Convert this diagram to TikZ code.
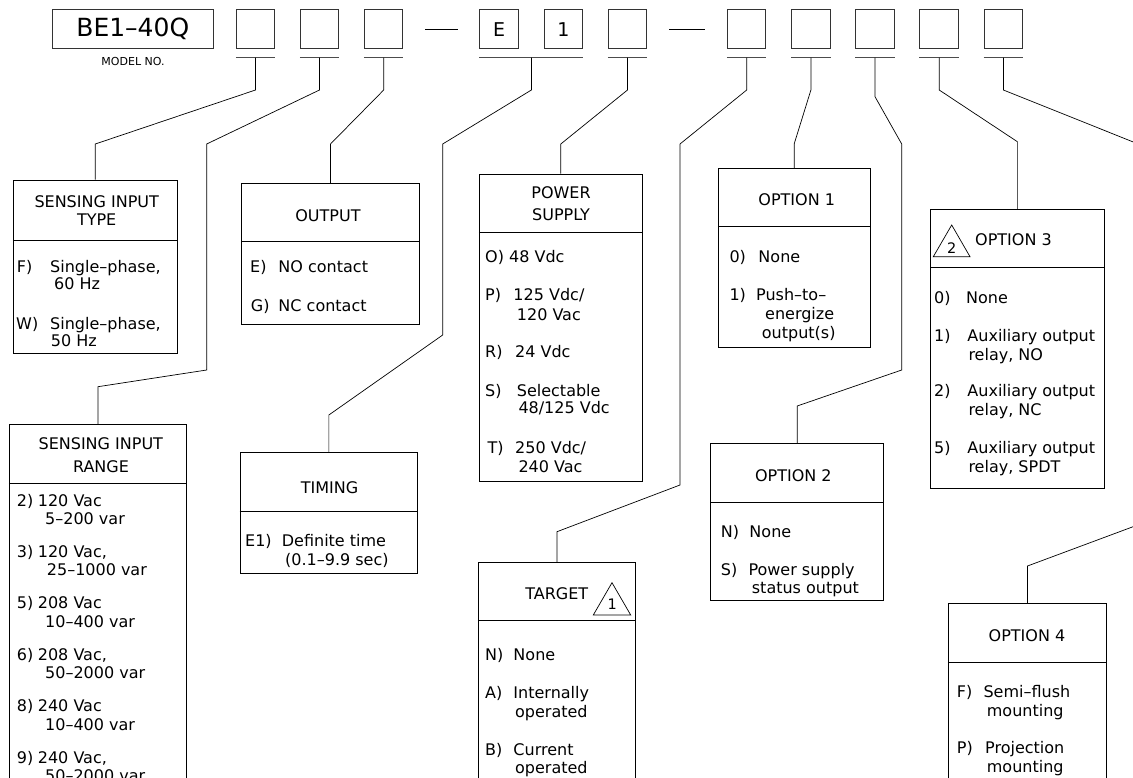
\documentclass[tikz,border=0pt]{standalone}
\usepackage{fontspec}
\newfontfamily\cad{DejaVu Sans}
\usetikzlibrary{fit}
\newcommand\lab[2]{\makebox[#1][l]{#2}}
\begin{document}
\begin{tikzpicture}[x=1pt,y=-1pt,
  bx/.style={draw, line width=0.9pt, inner sep=0pt},
  dv/.style={line width=0.9pt},
  sq/.style={draw=black!80, line width=1pt, minimum width=38.5pt, minimum height=38.3pt, inner sep=0pt},
  ul/.style={draw=black!70, line width=1.1pt},
  cn/.style={draw, line width=0.7pt, line join=miter},
  tx/.style={anchor=base west, inner sep=0pt, font=\cad\fontsize{16}{19}\selectfont},
  tt/.style={anchor=base, inner sep=0pt, font=\cad\fontsize{16}{19}\selectfont},
  tri/.style={draw, line width=0.7pt, line join=miter},
  trn/.style={inner sep=0pt, font=\cad\fontsize{14.5}{14.5}\selectfont}]
\useasboundingbox (0,0) rectangle (1133,778);
\fill[white] (0,0) rectangle (1133,778);
\clip (0,0) rectangle (1133,778);

% ---------- top row ----------
\node[sq, minimum width=161pt, font=\cad\fontsize{25}{25}\selectfont] (be) at (132.8,29.15) {BE1–40Q};
\node[inner sep=0pt, font=\cad\fontsize{11}{11}\selectfont] (mn) at (133,61.7) {MODEL NO.};
\node[sq] (b1) at (255.5,29.15) {};
\node[sq] (b2) at (319.5,29.15) {};
\node[sq] (b3) at (383.7,29.15) {};
\node[sq, font=\cad\fontsize{19}{19}\selectfont] (bE) at (499.2,29.15) {E};
\node[sq, font=\cad\fontsize{19}{19}\selectfont] (bO) at (563.3,29.15) {1};
\node[sq] (b6) at (627.5,29.15) {};
\node[sq] (b7) at (746.7,29.15) {};
\node[sq] (b8) at (810.9,29.15) {};
\node[sq] (b9) at (875,29.15) {};
\node[sq] (b10) at (939.2,29.15) {};
\node[sq] (b11) at (1003.4,29.15) {};
\draw[line width=0.9pt] (425,29.3) -- (457.7,29.3);
\draw[line width=0.9pt] (669.3,29.3) -- (705,29.3);

\foreach \b in {b1,b2,b3,b6,b7,b8,b9,b10,b11}{
  \draw[ul] (\b.south west |- 0,57.7) -- (\b.south east |- 0,57.7);
  \coordinate (u\b) at (\b.south |- 0,57.7);
}
\draw[ul] (bE.south west |- 0,57.7) -- (bO.south east |- 0,57.7);
\coordinate (ubE) at (531.4,57.7);

% ---------- boxes ----------
\node[bx, fit={(13.3,180) (177.3,353.3)}] (sit) {};
\draw[dv] (sit.west |- 0,240) -- (sit.east |- 0,240);
\node[bx, fit={(241.7,183.3) (419.3,324)}] (out) {};
\draw[dv] (out.west |- 0,241.7) -- (out.east |- 0,241.7);
\node[bx, fit={(9.3,424.3) (186.7,800)}] (sir) {};
\draw[dv] (sir.west |- 0,483.3) -- (sir.east |- 0,483.3);
\node[bx, fit={(240,452.3) (417.7,573.3)}] (tim) {};
\draw[dv] (tim.west |- 0,511) -- (tim.east |- 0,511);
\node[bx, fit={(479.3,174) (642.3,481.7)}] (pwr) {};
\draw[dv] (pwr.west |- 0,232.7) -- (pwr.east |- 0,232.7);
\node[bx, fit={(478.3,562.3) (635.7,800)}] (tgt) {};
\draw[dv] (tgt.west |- 0,620.7) -- (tgt.east |- 0,620.7);
\node[bx, fit={(718.3,168.3) (870,347.3)}] (op1) {};
\draw[dv] (op1.west |- 0,226.7) -- (op1.east |- 0,226.7);
\node[bx, fit={(710.7,443.3) (883.7,600)}] (op2) {};
\draw[dv] (op2.west |- 0,502.3) -- (op2.east |- 0,502.3);
\node[bx, fit={(930.7,209.3) (1104,488.3)}] (op3) {};
\draw[dv] (op3.west |- 0,267.7) -- (op3.east |- 0,267.7);
\node[bx, fit={(948.3,603.3) (1106.7,800)}] (op4) {};
\draw[dv] (op4.west |- 0,662.3) -- (op4.east |- 0,662.3);

% ---------- connectors ----------
\draw[cn] (ub1) -- (ub1 |- 0,90) -- (sit.north |- 0,144) -- (sit.north);
\draw[cn] (ub2) -- (ub2 |- 0,90) -- (206.7,144) -- (206.7,370) -- (sir.north |- 0,386.7) -- (sir.north);
\draw[cn] (ub3) -- (ub3 |- 0,90) -- (out.north |- 0,144) -- (out.north);
\draw[cn] (ubE) -- (ubE |- 0,90) -- (442.7,144) -- (442.7,335) -- (tim.north |- 0,415) -- (tim.north);
\draw[cn] (ub6) -- (ub6 |- 0,90) -- (pwr.north |- 0,144) -- (pwr.north);
\draw[cn] (ub7) -- (ub7 |- 0,90) -- (680,144) -- (680,485) -- (tgt.north |- 0,531.7) -- (tgt.north);
\draw[cn] (ub8) -- (ub8 |- 0,90) -- (op1.north |- 0,144) -- (op1.north);
\draw[cn] (ub9) -- (ub9 |- 0,96.7) -- (901.7,144) -- (901.7,370) -- (op2.north |- 0,406) -- (op2.north);
\draw[cn] (ub10) -- (ub10 |- 0,90) -- (op3.north |- 0,141.7) -- (op3.north);
\draw[cn] (ub11) -- (ub11 |- 0,90) -- (1150,148.7) -- (1150,520.4) -- (op4.north |- 0,566) -- (op4.north);

% ---------- SENSING INPUT TYPE ----------
\node[tt] (sitA) at (96.7,207.7) {SENSING INPUT};
\node[tt] (sitB) at (96.7,226) {TYPE};
\node[tx] (sit1) at (16.7,272.7) {\lab{33.3pt}{F)}Single–phase,};
\node[tx] (sit2) at (54,289.3) {60 Hz};
\node[tx] (sit3) at (16,329.3) {\lab{34pt}{W)}Single–phase,};
\node[tx] (sit4) at (50.7,346.7) {50 Hz};

% ---------- OUTPUT ----------
\node[tt] (outA) at (328,222) {OUTPUT};
\node[tx] (out1) at (250,272.7) {\lab{28.3pt}{E)}NO contact};
\node[tx] (out2) at (250.7,311) {\lab{27.6pt}{G)}NC contact};

% ---------- SENSING INPUT RANGE ----------
\node[tt] (sirA) at (100.8,449.3) {SENSING INPUT};
\node[tt] (sirB) at (101,472) {RANGE};
\node[tx] (sir1) at (16.7,506) {\lab{21pt}{2)}120 Vac};
\node[tx] (sir2) at (45,524.5) {5–200 var};
\node[tx] (sir3) at (16.7,557.4) {\lab{21pt}{3)}120 Vac,};
\node[tx] (sir4) at (46.7,575.9) {25–1000 var};
\node[tx] (sir5) at (16.7,608.8) {\lab{21pt}{5)}208 Vac};
\node[tx] (sir6) at (45,627.3) {10–400 var};
\node[tx] (sir7) at (16.7,660.2) {\lab{21pt}{6)}208 Vac,};
\node[tx] (sir8) at (45,678.7) {50–2000 var};
\node[tx] (sir9) at (16.7,711.6) {\lab{21pt}{8)}240 Vac};
\node[tx] (sir10) at (45,730.1) {10–400 var};
\node[tx] (sir11) at (16.7,763) {\lab{21pt}{9)}240 Vac,};
\node[tx] (sir12) at (45,781) {50–2000 var};

% ---------- TIMING ----------
\node[tt] (timA) at (329.5,493.3) {TIMING};
\node[tx] (tim1) at (245,546) {\lab{36.7pt}{E1)}Definite time};
\node[tx] (tim2) at (285,565) {(0.1–9.9 sec)};

% ---------- POWER SUPPLY ----------
\node[tt] (pwrA) at (561,198.7) {POWER};
\node[tt] (pwrB) at (561,221) {SUPPLY};
\node[tx] (pwr1) at (485,262.7) {\lab{24pt}{O)}48 Vdc};
\node[tx] (pwr2) at (485,301) {\lab{28.3pt}{P)}125 Vdc/};
\node[tx] (pwr3) at (516.7,320) {120 Vac};
\node[tx] (pwr4) at (485,357.7) {\lab{30pt}{R)}24 Vdc};
\node[tx] (pwr5) at (485,396) {\lab{31.7pt}{S)}Selectable};
\node[tx] (pwr6) at (518.3,413.3) {48/125 Vdc};
\node[tx] (pwr7) at (487.3,453.3) {\lab{27.7pt}{T)}250 Vdc/};
\node[tx] (pwr8) at (518.3,472) {240 Vac};

% ---------- TARGET ----------
\node[tt] (tgtA) at (556.7,599.3) {TARGET};
\draw[tri] (593.3,615) -- (630.7,615) -- (612,582.7) -- cycle;
\node[trn] (tgtN) at (612.3,604.7) {1};
\node[tx] (tgt1) at (485,660) {\lab{28.3pt}{N)}None};
\node[tx] (tgt2) at (485,698.7) {\lab{28.3pt}{A)}Internally};
\node[tx] (tgt3) at (515,717.7) {operated};
\node[tx] (tgt4) at (485,755) {\lab{28.3pt}{B)}Current};
\node[tx] (tgt5) at (515,773.7) {operated};

% ---------- OPTION 1 ----------
\node[tt] (op1A) at (796.7,206) {OPTION 1};
\node[tx] (op1a) at (729.3,262) {\lab{29pt}{0)}None};
\node[tx] (op1b) at (729.3,300.3) {\lab{26.7pt}{1)}Push–to–};
\node[tx] (op1c) at (765,319.3) {energize};
\node[tx] (op1d) at (761.7,338.3) {output(s)};

% ---------- OPTION 2 ----------
\node[tt] (op2A) at (793.3,481) {OPTION 2};
\node[tx] (op2a) at (720.7,537) {\lab{28.6pt}{N)}None};
\node[tx] (op2b) at (720.7,575) {\lab{27.6pt}{S)}Power supply};
\node[tx] (op2c) at (751.7,593.7) {status output};

% ---------- OPTION 3 ----------
\draw[tri] (933.3,256.7) -- (970,256.7) -- (951.7,225) -- cycle;
\node[trn] (op3N) at (951.7,248.3) {2};
\node[tx] (op3A) at (975,246) {OPTION 3};
\node[tx] (op3a) at (934,303.7) {\lab{32pt}{0)}None};
\node[tx] (op3b) at (934,341.7) {\lab{33.3pt}{1)}Auxiliary output};
\node[tx] (op3c) at (968.3,360) {relay, NO};
\node[tx] (op3d) at (934,396.7) {\lab{33.3pt}{2)}Auxiliary output};
\node[tx] (op3e) at (968.3,415) {relay, NC};
\node[tx] (op3f) at (934,453.3) {\lab{33.3pt}{5)}Auxiliary output};
\node[tx] (op3g) at (968.3,472) {relay, SPDT};

% ---------- OPTION 4 ----------
\node[tt] (op4A) at (1027,641) {OPTION 4};
\node[tx] (op4a) at (956.7,697) {\lab{26.6pt}{F)}Semi–flush};
\node[tx] (op4b) at (986.7,716) {mounting};
\node[tx] (op4c) at (956.7,753.7) {\lab{28.3pt}{P)}Projection};
\node[tx] (op4d) at (986.7,772.7) {mounting};
\end{tikzpicture}
\end{document}
